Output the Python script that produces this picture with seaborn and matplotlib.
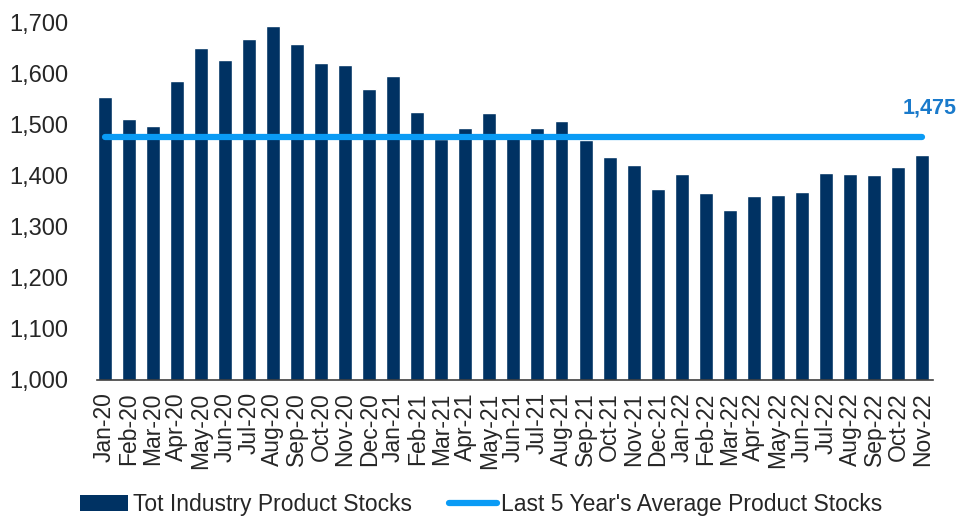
import pandas as pd
import seaborn as sns
import matplotlib.pyplot as plt
from matplotlib.patches import Patch
from matplotlib.lines import Line2D

# Monthly product stocks
months = ['Jan-20', 'Feb-20', 'Mar-20', 'Apr-20', 'May-20', 'Jun-20', 'Jul-20', 'Aug-20',
          'Sep-20', 'Oct-20', 'Nov-20', 'Dec-20', 'Jan-21', 'Feb-21', 'Mar-21', 'Apr-21',
          'May-21', 'Jun-21', 'Jul-21', 'Aug-21', 'Sep-21', 'Oct-21', 'Nov-21', 'Dec-21',
          'Jan-22', 'Feb-22', 'Mar-22', 'Apr-22', 'May-22', 'Jun-22', 'Jul-22', 'Aug-22',
          'Sep-22', 'Oct-22', 'Nov-22']
stocks = [1553, 1510, 1496, 1585, 1649, 1626, 1667, 1693,
          1657, 1620, 1616, 1569, 1594, 1524, 1472, 1492,
          1523, 1483, 1492, 1507, 1470, 1436, 1421, 1374,
          1403, 1366, 1333, 1359, 1362, 1367, 1404, 1402,
          1401, 1417, 1440]
avg_5yr = 1475

bar_color = '#003263'
line_color = '#0A9BF5'
label_color = '#1A7ACB'

df = pd.DataFrame({'month': months, 'stocks': stocks})

sns.set_theme(style='white')
plt.rcParams['font.family'] = ['Liberation Sans', 'DejaVu Sans']

fig, ax = plt.subplots(figsize=(9.57, 5.16), dpi=100)
fig.subplots_adjust(left=0.101, right=0.975, top=0.957, bottom=0.264)

sns.barplot(data=df, x='month', y='stocks', color=bar_color, saturation=1,
            width=0.58, ax=ax)

# 5-year average line across all bars
ax.plot([0, len(months) - 1], [avg_5yr, avg_5yr], color=line_color, lw=4.5,
        solid_capstyle='round', zorder=3)
ax.text(len(months) - 1 + 1.42, avg_5yr + 57, f'{avg_5yr:,}', color=label_color,
        fontsize=15.5, fontweight='bold', ha='right', va='center', clip_on=False)

ax.set_ylim(1000, 1700)
ax.set_xlim(-0.33, len(months) - 1 + 0.45)
ax.set_yticks(range(1000, 1701, 100))
ax.set_yticklabels([f'{v:,}' for v in range(1000, 1701, 100)], fontsize=17)
ax.tick_params(axis='x', labelrotation=90, labelsize=16.5, pad=3)
ax.tick_params(axis='y', pad=14.5)
ax.set_xlabel('')
ax.set_ylabel('')

sns.despine(ax=ax, left=True)
ax.spines['bottom'].set_color('#404040')
ax.spines['bottom'].set_linewidth(1.2)

handles = [Patch(facecolor=bar_color, edgecolor='none'),
           Line2D([0], [0], color=line_color, lw=4.5)]
fig.legend(handles, ['Tot Industry Product Stocks', "Last 5 Year's Average Product Stocks"],
           loc='lower center', bbox_to_anchor=(0.503, -0.04), ncol=2, frameon=False,
           fontsize=16.5, handlelength=2.1, handleheight=0.7, columnspacing=1.6,
           handletextpad=0.2)

fig.savefig('out.png', dpi=100)
